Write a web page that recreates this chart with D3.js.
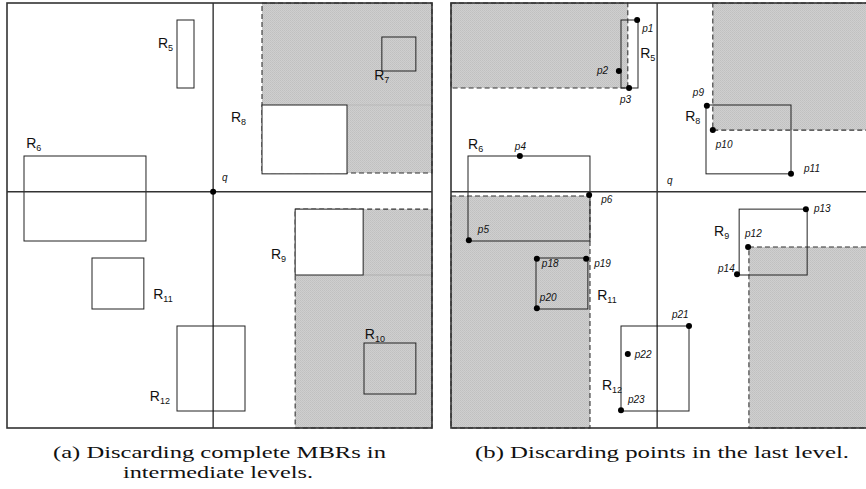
<!DOCTYPE html>
<html>
<head>
<meta charset="utf-8">
<script src="https://cdn.jsdelivr.net/npm/d3@7"></script>
<style>
  body { margin: 0; background: #fff; }
  svg { display: block; }
  .rlab { font-family: "Liberation Sans", Arial, sans-serif; font-size: 14px; fill: #111; }
  .plab { font-family: "Liberation Sans", Arial, sans-serif; font-size: 10px; font-style: italic; fill: #111; }
  .cap { font-family: "Liberation Serif", serif; font-size: 17.5px; fill: #111; }
</style>
</head>
<body>
<svg width="866" height="489"></svg>
<script>
// world space: each panel is 0..100 in x and y (y up)

// MBRs of the leaf level
var mbrIds = ["5", "6", "7", "8", "9", "10", "11", "12"];
var mbrX0  = [40,  4,   88.2, 60,   67.8, 84,   20,   40];
var mbrX1  = [44,  32.7, 96.2, 80,  83.8, 96.2, 32.2, 56];
var mbrY0  = [80,  44,  84,   59.8, 36,   8,    28,   4];
var mbrY1  = [96,  64,  92,   76,   51.5, 20,   40,   24];

// which MBRs show up in each panel, and which are left white (not discarded)
var panelAIds = ["5", "6", "7", "8", "9", "10", "11", "12"];
var panelAWhite = ["8", "9"];
var panelBIds = ["5", "6", "8", "9", "11", "12"];

var query = {x: 48.5, y: 55.6};

// discarded (shaded) areas
var shadedA = [
  {x0: 60, x1: 100, y0: 60, y1: 100},
  {x0: 67.8, x1: 100, y0: 0, y1: 51.5}
];
var shadedB = [
  {x0: 0, x1: 41.6, y0: 80, y1: 100},
  {x0: 0, x1: 32.7, y0: 0, y1: 54.6},
  {x0: 61.6, x1: 100, y0: 70.1, y1: 100},
  {x0: 70.1, x1: 100, y0: 0, y1: 42.6}
];

// data points of panel (b)
var pointIds = ["1","2","3","4","5","6","9","10","11","12","13","14","18","19","20","21","22","23"];
var pointX   = [43.8,39.5,41.9,16.2,4.2,32.5,60.2,61.6,80.0,69.9,83.5,67.3,20.2,31.8,20.2,56.0,41.6,40.0];
var pointY   = [96.0,84.0,80.0,64.0,44.2,54.8,75.8,70.1,59.8,42.6,51.5,36.2,39.8,39.8,28.2,24.0,17.4,4.2];

// label layout (world coords for R labels, pixel offsets for point labels)
var rLabelA = {"5":[35.5,89.4],"6":[4.5,65.9],"7":[86.4,81.9],"8":[52.7,72.0],"9":[62.1,39.8],
               "10":[84.2,20.9],"11":[34.4,30.4],"12":[33.6,6.4]};
var rLabelB = {"5":[44.5,87.1],"6":[4.0,65.6],"8":[55.1,72.2],"9":[61.9,45.2],"11":[34.4,30.1],"12":[35.5,8.9]};
var pLabelOff = {"1":[5,12],"2":[-22,3],"3":[-9,15],"4":[-5,-6],"5":[9,-7],"6":[12,8],"9":[-14,-10],
                 "10":[3,18],"11":[13,-2],"12":[-3,-10],"13":[8,3],"14":[-19,-2],"18":[5,8],"19":[8,8],
                 "20":[3,-7],"21":[-17,-8],"22":[7,4],"23":[7,-7]};

var mbrs = mbrIds.map(function(id, i){
  return {id: id, x0: mbrX0[i], x1: mbrX1[i], y0: mbrY0[i], y1: mbrY1[i]};
});
var points = pointIds.map(function(id, i){ return {id: id, x: pointX[i], y: pointY[i]}; });

var svg = d3.select("svg");
svg.append("rect").attr("width", 866).attr("height", 489).attr("fill", "#fff");

// checkered gray used for discarded regions
var pat = svg.append("defs").append("pattern").attr("id", "shade")
  .attr("width", 2).attr("height", 2).attr("patternUnits", "userSpaceOnUse");
pat.append("rect").attr("width", 2).attr("height", 2).attr("fill", "#cfcfcf");
pat.append("rect").attr("width", 1).attr("height", 1).attr("fill", "#c0c0c0");
pat.append("rect").attr("x", 1).attr("y", 1).attr("width", 1).attr("height", 1).attr("fill", "#c4c4c4");

var y = d3.scaleLinear().domain([0, 100]).range([428, 3]);

function rLabel(g, x, yy, id){
  var t = g.append("text").attr("class", "rlab").attr("x", x).attr("y", yy);
  t.append("tspan").text("R");
  t.append("tspan").attr("font-size", 9).attr("dy", 3).text(id);
}

function drawPanel(left, ids, shaded, white, labels, withPoints){
  var x = d3.scaleLinear().domain([0, 100]).range([left, left + 425]);
  var g = svg.append("g");

  g.selectAll(".sh").data(shaded).join("rect")
    .attr("x", d => x(d.x0)).attr("y", d => y(d.y1))
    .attr("width", d => x(d.x1) - x(d.x0)).attr("height", d => y(d.y0) - y(d.y1))
    .attr("fill", "url(#shade)").attr("stroke", "#333").attr("stroke-width", 1.1)
    .attr("stroke-dasharray", "5,3");

  var shown = mbrs.filter(d => ids.indexOf(d.id) >= 0);

  // faint continuation of white MBR edges through the shade
  if (white.length){
    var m8 = shown.find(d => d.id == "8"), m9 = shown.find(d => d.id == "9");
    g.append("line").attr("x1", x(m8.x1)).attr("x2", x(100)).attr("y1", y(m8.y1)).attr("y2", y(m8.y1))
      .attr("stroke", "#b0b0b0").attr("stroke-width", 0.6);
    g.append("line").attr("x1", x(m9.x1)).attr("x2", x(100)).attr("y1", y(m9.y0)).attr("y2", y(m9.y0))
      .attr("stroke", "#a0a0a0").attr("stroke-width", 0.6);
  }

  g.selectAll(".mbr").data(shown).join("rect")
    .attr("x", d => x(d.x0)).attr("y", d => y(d.y1))
    .attr("width", d => x(d.x1) - x(d.x0)).attr("height", d => y(d.y0) - y(d.y1))
    .attr("fill", d => white.indexOf(d.id) >= 0 ? "#fff" : "none")
    .attr("stroke", "#222").attr("stroke-width", 1);

  // query cross lines
  g.append("line").attr("x1", x(query.x)).attr("x2", x(query.x)).attr("y1", y(0)).attr("y2", y(100))
    .attr("stroke", "#111").attr("stroke-width", 1.2);
  g.append("line").attr("x1", x(0)).attr("x2", x(100)).attr("y1", y(query.y)).attr("y2", y(query.y))
    .attr("stroke", "#333").attr("stroke-width", 1.4);

  // outer border
  g.append("rect").attr("x", x(0)).attr("y", y(100))
    .attr("width", x(100) - x(0)).attr("height", y(0) - y(100))
    .attr("fill", "none").attr("stroke", "#333").attr("stroke-width", 1.6);

  shown.forEach(function(d){
    var p = labels[d.id];
    if (p) rLabel(g, x(p[0]), y(p[1]), d.id);
  });

  var ql = withPoints ? [50.8, 57.4] : [50.6, 58.1];
  g.append("text").attr("class", "plab").attr("x", x(ql[0])).attr("y", y(ql[1])).text("q");

  if (!withPoints){
    g.append("circle").attr("cx", x(query.x)).attr("cy", y(query.y)).attr("r", 3).attr("fill", "#000");
  } else {
    g.selectAll(".pt").data(points).join("circle")
      .attr("cx", d => x(d.x)).attr("cy", d => y(d.y)).attr("r", 3).attr("fill", "#000");
    g.selectAll(".pl").data(points).join("text").attr("class", "plab")
      .attr("x", d => x(d.x) + pLabelOff[d.id][0]).attr("y", d => y(d.y) + pLabelOff[d.id][1])
      .text(d => "p" + d.id);
  }
}

drawPanel(7, panelAIds, shadedA, panelAWhite, rLabelA, false);
drawPanel(451, panelBIds, shadedB, [], rLabelB, true);

// captions
svg.append("text").attr("class", "cap").attr("x", 219.5).attr("y", 458).attr("text-anchor", "middle")
  .attr("textLength", 333).attr("lengthAdjust", "spacingAndGlyphs").text("(a) Discarding complete MBRs in");
svg.append("text").attr("class", "cap").attr("x", 218).attr("y", 478).attr("text-anchor", "middle")
  .attr("textLength", 190).attr("lengthAdjust", "spacingAndGlyphs").text("intermediate levels.");
svg.append("text").attr("class", "cap").attr("x", 662).attr("y", 458).attr("text-anchor", "middle")
  .attr("textLength", 374).attr("lengthAdjust", "spacingAndGlyphs").text("(b) Discarding points in the last level.");
</script>
</body>
</html>
